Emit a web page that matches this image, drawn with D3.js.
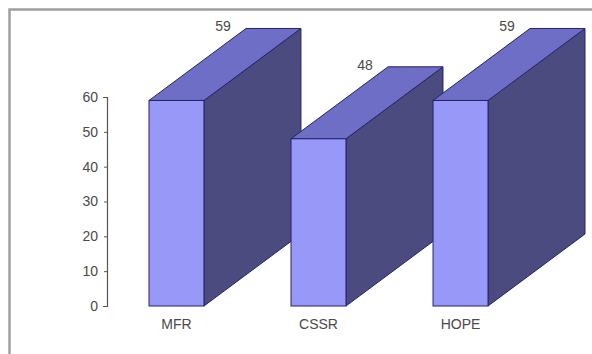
<!DOCTYPE html>
<html>
<head>
<meta charset="utf-8">
<script src="https://cdn.jsdelivr.net/npm/d3@7"></script>
<style>
  html, body { margin: 0; padding: 0; background: #fff; }
  svg { display: block; }
  text { font-family: "Liberation Sans", Arial, sans-serif; }
</style>
</head>
<body>
<svg id="chart" width="592" height="354"></svg>
<script>
// Chart data
const categories = ["MFR", "CSSR", "HOPE"];
const values = [59, 48, 59];
const yTicks = [0, 10, 20, 30, 40, 50, 60];

const svg = d3.select("#chart");
const W = 592, H = 354;
const fontSize = "14px";
const textColor = "#4a4a4a";

// Panel frame (top and left edges only)
svg.append("path")
  .attr("d", `M9.5,${H} V9.5 H${W}`)
  .attr("fill", "none")
  .attr("stroke", "#a0a0a0")
  .attr("stroke-width", 2.5);

// Scales
const y = d3.scaleLinear().domain([0, 60]).range([306, 97]);
const x = d3.scaleBand().domain(categories).range([149, 488]).paddingInner(0.613).paddingOuter(0);

// 3D depth offset
const depthX = 97, depthY = 72;

// Y axis
const axisG = svg.append("g")
  .attr("transform", "translate(107,0)")
  .call(d3.axisLeft(y).tickValues(yTicks).tickSize(3).tickSizeOuter(4).tickPadding(6));
axisG.select(".domain").attr("stroke", "#555").attr("stroke-width", 1.2);
axisG.selectAll(".tick line").attr("stroke", "#555");
axisG.selectAll(".tick text")
  .attr("fill", textColor)
  .style("font-size", fontSize)
  .style("font-family", "'Liberation Sans', Arial, sans-serif");

const edge = "#24246a";
const data = categories.map((c, i) => ({ c, v: values[i] }));

const bars = svg.append("g").selectAll("g.bar").data(data).join("g").attr("class", "bar");

bars.each(function(d) {
  const g = d3.select(this);
  const x0 = x(d.c), x1 = x0 + x.bandwidth();
  const yt = y(d.v), yb = y(0);
  // side face
  g.append("path")
    .attr("d", `M${x1},${yt} L${x1 + depthX},${yt - depthY} L${x1 + depthX},${yb - depthY} L${x1},${yb} Z`)
    .attr("fill", "#4b4b80").attr("stroke", edge).attr("stroke-width", 1).attr("stroke-linejoin", "round");
  // top face
  g.append("path")
    .attr("d", `M${x0},${yt} L${x0 + depthX},${yt - depthY} L${x1 + depthX},${yt - depthY} L${x1},${yt} Z`)
    .attr("fill", "#6e6ec6").attr("stroke", edge).attr("stroke-width", 1).attr("stroke-linejoin", "round");
  // front face
  g.append("rect")
    .attr("x", x0).attr("y", yt)
    .attr("width", x.bandwidth()).attr("height", yb - yt)
    .attr("fill", "#9898f8").attr("stroke", edge).attr("stroke-width", 1);
  // value label
  g.append("text")
    .attr("x", x0 + depthX - 23)
    .attr("y", yt - depthY + 3)
    .attr("text-anchor", "middle")
    .attr("fill", textColor)
    .style("font-size", fontSize)
    .text(d.v);
});

// Category labels
svg.append("g").selectAll("text").data(categories).join("text")
  .attr("x", d => x(d) + x.bandwidth() / 2)
  .attr("y", 329)
  .attr("text-anchor", "middle")
  .attr("fill", textColor)
  .style("font-size", fontSize)
  .text(d => d);
</script>
</body>
</html>
